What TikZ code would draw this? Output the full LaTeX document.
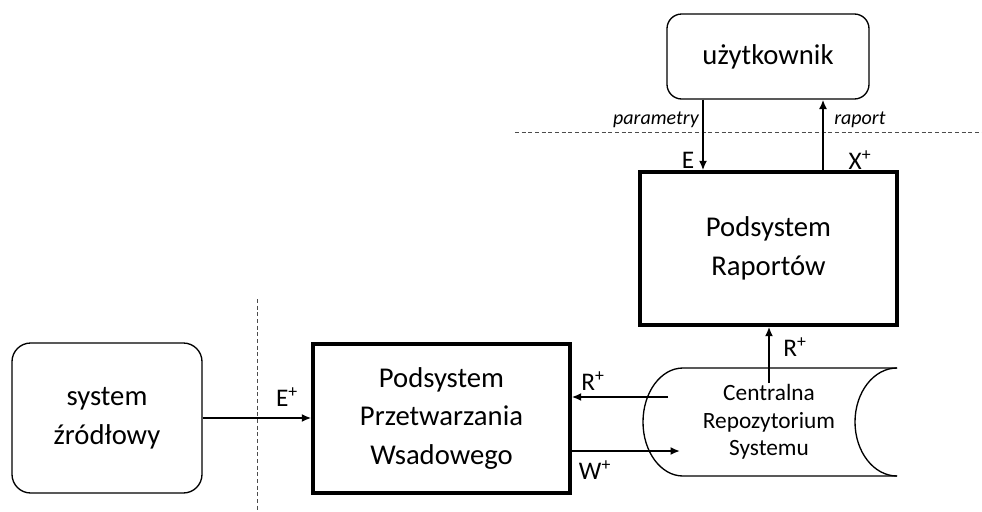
\documentclass[tikz,border=0pt]{standalone}
\usepackage{fontspec}
\setmainfont{Carlito}
\usetikzlibrary{arrows.meta}
\tikzset{
  rbox/.style={draw, line width=1pt, rounded corners=11pt, align=center},
  mainbox/.style={draw, line width=2.6pt, align=center},
  bigtext/.style={font=\fontsize{21.5}{29}\selectfont},
  arr/.style={line width=1.5pt, -{Latex[length=7pt,width=6pt]}},
  sep/.style={line width=0.6pt, densely dashed, black!70},
  lbl/.style={inner sep=0pt, font=\fontsize{19}{22}\selectfont},
  flowname/.style={inner sep=0pt, font=\itshape\fontsize{15}{18}\selectfont}
}
\begin{document}
\begin{tikzpicture}[x=0.75pt, y=0.75pt]
    \useasboundingbox (0,0) rectangle (982,-511);

    % User and report subsystem
    \node[rbox, bigtext, minimum width=151.5pt, minimum height=63.75pt] (uzyt) at (768,-56.5) {użytkownik};
    \node[mainbox, bigtext, minimum width=192.75pt, minimum height=114.75pt] (rap) at (768.5,-248.5) {Podsystem\\Raportów};

    % Source system and batch subsystem
    \node[rbox, bigtext, rounded corners=14pt, minimum width=142.5pt, minimum height=112.5pt] (zrodl) at (107,-418) {system\\źródłowy};
    \node[mainbox, bigtext, minimum width=192.75pt, minimum height=111.75pt] (przetw) at (441.5,-418.5) {Podsystem\\Przetwarzania\\Wsadowego};

    % Repository
    \draw[line width=1pt] (897,-368) -- (683,-368)
        arc[start angle=90, end angle=270, x radius=40, y radius=54] -- (897,-476);
    \draw[line width=1pt] (897,-368) arc[start angle=90, end angle=270, x radius=42, y radius=54];
    \node[align=center, font=\fontsize{17.5}{20.5}\selectfont] (repo) at (769,-422)
        {Centralna\\Repozytorium\\Systemu};

    % Boundaries
    \draw[sep] (515,-132) -- (982,-132);
    \draw[sep] (257,-299) -- (257,-511);

    % Flows
    \coordinate (pE) at (703,0);
    \coordinate (pX) at (823,0);
    \coordinate (rOut) at (769,-383);
    \coordinate (rIn) at (668,-397);
    \coordinate (wIn) at (680,-451);
    \draw[arr] (uzyt.south -| pE) -- (rap.north -| pE);
    \draw[arr] (rap.north -| pX) -- (uzyt.south -| pX);
    \draw[arr] (rOut) -- (rap.south -| rOut);
    \draw[arr] (rIn) -- (rIn -| przetw.east);
    \draw[arr] (wIn -| przetw.east) -- (wIn);
    \draw[arr] (zrodl.east) -- (zrodl.east -| przetw.west);

    % Labels
    \node[flowname, anchor=east] (lPar) at (699,-120) {parametry};
    \node[flowname, anchor=west] (lRap) at (834,-120) {raport};
    \node[lbl] (lE) at (688,-160) {E};
    \node[lbl] (lX) at (860,-160) {X\textsuperscript{+}};
    \node[lbl] (lRup) at (795,-347) {R\textsuperscript{+}};
    \node[lbl] (lRin) at (593,-381) {R\textsuperscript{+}};
    \node[lbl] (lW) at (595,-470) {W\textsuperscript{+}};
    \node[lbl] (lEp) at (287,-397) {E\textsuperscript{+}};
\end{tikzpicture}
\end{document}
